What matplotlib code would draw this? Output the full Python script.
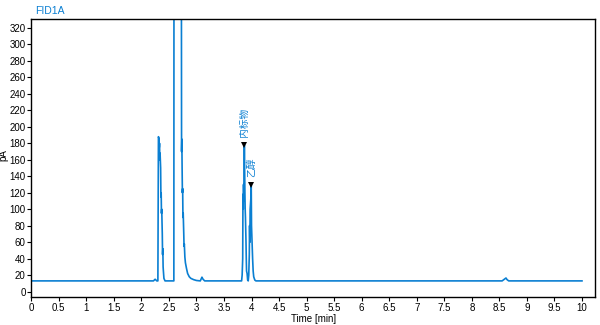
import matplotlib
matplotlib.use("Agg")
from matplotlib import pyplot as plt

plt.rcParams['font.family'] = ['Liberation Sans', 'Noto Sans CJK SC', 'DejaVu Sans']

# 色谱数据
t = [0, 2.22, 2.25, 2.28, 2.30, 2.31, 2.32, 2.325, 2.33, 2.335, 2.34, 2.35, 2.355,
     2.36, 2.365, 2.37, 2.38, 2.385, 2.39, 2.395, 2.40, 2.41, 2.43, 2.59, 2.595,
     2.72, 2.73, 2.735, 2.74, 2.745, 2.75, 2.755, 2.76, 2.77, 2.775, 2.78, 2.79,
     2.80, 2.82, 2.84, 2.87, 2.90, 2.95, 3.00, 3.07, 3.09, 3.10, 3.12, 3.15,
     3.82, 3.83, 3.84, 3.845, 3.85, 3.855, 3.86, 3.87, 3.875, 3.88, 3.885, 3.89,
     3.90, 3.905, 3.91, 3.92, 3.93, 3.94, 3.95, 3.96, 3.965, 3.97, 3.975, 3.985,
     3.99, 3.995, 4.0, 4.01, 4.02, 4.03, 4.04, 4.06, 4.08, 8.55, 8.6, 8.62, 8.64,
     8.67, 10.0]
sig = [13, 13, 15, 13, 13, 188, 186, 175, 180, 160, 168, 150, 115,
       120, 95, 100, 70, 45, 52, 30, 25, 16, 13, 13, 900,
       900, 170, 185, 150, 120, 125, 90, 95, 70, 55, 58, 42,
       35, 28, 22, 18, 16, 14.5, 13.5, 13, 16, 17.5, 15, 13,
       13, 20, 40, 118, 100, 130, 110, 178, 150, 120, 100, 90,
       60, 40, 25, 22, 14, 13, 20, 45, 80, 60, 100, 110,
       115, 129, 80, 60, 40, 25, 18, 14, 13, 13, 15.5, 16.5, 14.5,
       13, 13]

peak_t = [3.87, 3.995]
peak_y = [178, 129]
peak_names = ["内标物", "乙醇"]

blue = "#0a7fd2"

fig = plt.figure(figsize=(6, 3.25), dpi=100)
ax = fig.add_axes([0.052, 0.085, 0.940, 0.857])
ax.plot(t, sig, color=blue, lw=1.2)

ax.plot(peak_t, peak_y, "v", color="black", ms=5, markeredgewidth=0)
for pt, py, name in zip(peak_t, peak_y, peak_names):
    ax.text(pt, py + 10, name, rotation=90, ha="center", va="bottom",
            color=blue, fontsize=7)

ax.set_xlim(0, 10.24)
ax.set_ylim(-7, 331)
ax.set_xticks([i * 0.5 for i in range(21)])
ax.set_xticklabels(["%g" % (i * 0.5) for i in range(21)])
ax.set_yticks(range(0, 321, 20))
ax.tick_params(labelsize=7, length=3, width=0.8, pad=1)
for s in ax.spines.values():
    s.set_linewidth(1)

ax.set_xlabel("Time [min]", fontsize=7, labelpad=1)
ax.set_ylabel("pA", fontsize=7)
ax.yaxis.set_label_coords(-0.04, 0.51)
fig.text(0.058, 0.965, "FID1A", color=blue, fontsize=7.5, va="center")

fig.savefig("out.png", dpi=100)
